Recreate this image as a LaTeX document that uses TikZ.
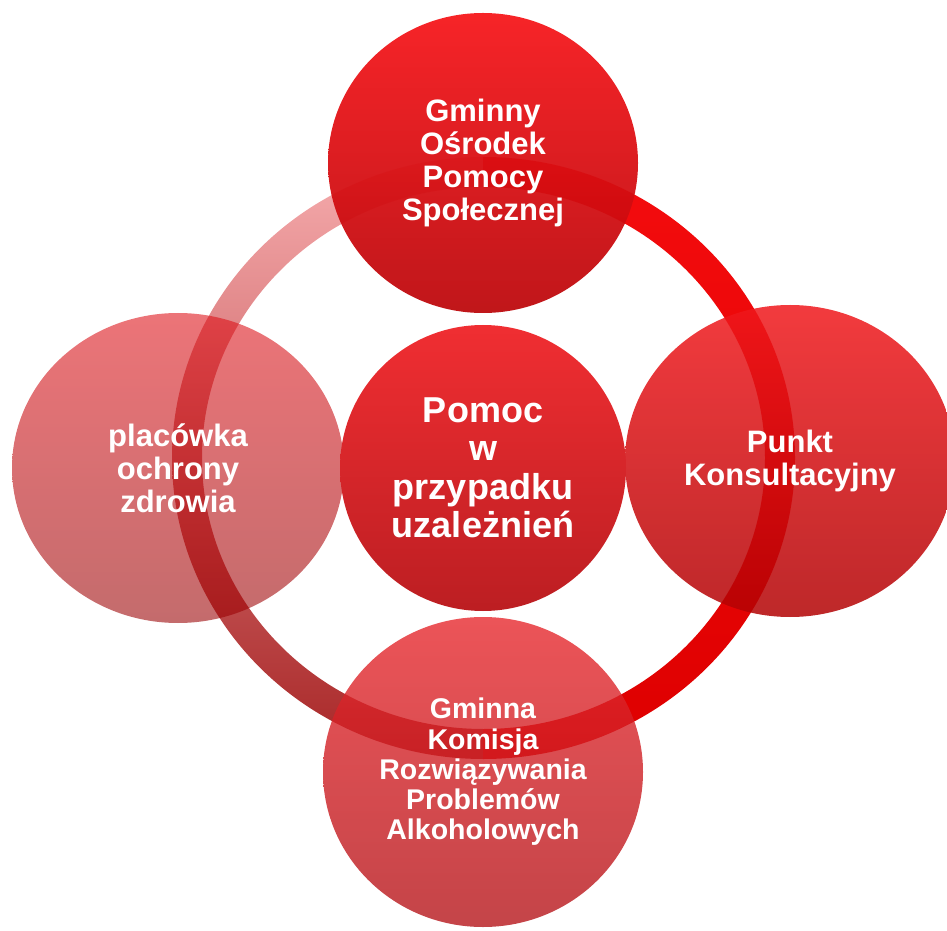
\documentclass[tikz,border=0pt]{standalone}
\usepackage{fontspec}
\setmainfont{Liberation Sans}
\usetikzlibrary{shapes.geometric,backgrounds}

\definecolor{topA}{RGB}{246,22,26}
\definecolor{topB}{RGB}{188,8,12}
\definecolor{rightA}{RGB}{240,24,28}
\definecolor{rightB}{RGB}{178,2,4}
\definecolor{hubA}{RGB}{240,46,50}
\definecolor{hubB}{RGB}{188,30,34}
\definecolor{bottomA}{RGB}{231,41,46}
\definecolor{bottomB}{RGB}{181,21,26}
\definecolor{leftA}{RGB}{222,15,22}
\definecolor{leftB}{RGB}{153,0,2}
\definecolor{ringTop}{RGB}{246,172,174}
\definecolor{ringMid}{RGB}{208,74,78}
\definecolor{ringBot}{RGB}{168,38,38}
\definecolor{ringRedA}{RGB}{244,12,14}
\definecolor{ringRedB}{RGB}{222,0,0}

\begin{document}
\begin{tikzpicture}[x=1pt, y=1pt,
    bubble/.style={ellipse, inner sep=0pt, align=center, text=white, text opacity=1},
    small/.style={font=\bfseries\fontsize{31}{33}\selectfont},
    big/.style={font=\bfseries\fontsize{36}{38.5}\selectfont}]
    \useasboundingbox (0,0) rectangle (947,930);

    \node[bubble, small, minimum width=310pt, minimum height=300pt,
        top color=topA, bottom color=topB, fill opacity=0.94] (gops) at (483,767)
        {Gminny\\Ośrodek\\Pomocy\\Społecznej};
    \node[bubble, small, minimum width=332pt, minimum height=310pt,
        top color=leftA, bottom color=leftB, fill opacity=0.58] (zdrowie) at (178,462)
        {placówka\\ochrony\\zdrowia};
    \node[bubble, small, minimum width=330pt, minimum height=312pt,
        top color=rightA, bottom color=rightB, fill opacity=0.85] (punkt) at (790,469)
        {Punkt\\Konsultacyjny};
    \node[bubble, font=\bfseries\fontsize{28.5}{30.3}\selectfont, minimum width=320pt, minimum height=310pt,
        top color=bottomA, bottom color=bottomB, fill opacity=0.8] (komisja) at (483,158)
        {Gminna\\Komisja\\Rozwiązywania\\Problemów\\Alkoholowych};
    \node[bubble, big, minimum size=286pt,
        top color=hubA, bottom color=hubB] (pomoc) at (483,462)
        {Pomoc\\w\\przypadku\\uzależnień};

    % ring behind the circles
    \begin{scope}[on background layer]
        \shade[top color=ringTop, middle color=ringMid, bottom color=ringBot]
            (483.5,773) arc[start angle=90, end angle=270, x radius=311.5, y radius=301]
            -- (483.5,201) arc[start angle=270, end angle=90, x radius=281.5, y radius=271] -- cycle;
        \shade[top color=ringRedA, bottom color=ringRedB]
            (483.5,773) arc[start angle=90, end angle=-90, x radius=311.5, y radius=301]
            -- (483.5,201) arc[start angle=-90, end angle=90, x radius=281.5, y radius=271] -- cycle;
    \end{scope}
\end{tikzpicture}
\end{document}
